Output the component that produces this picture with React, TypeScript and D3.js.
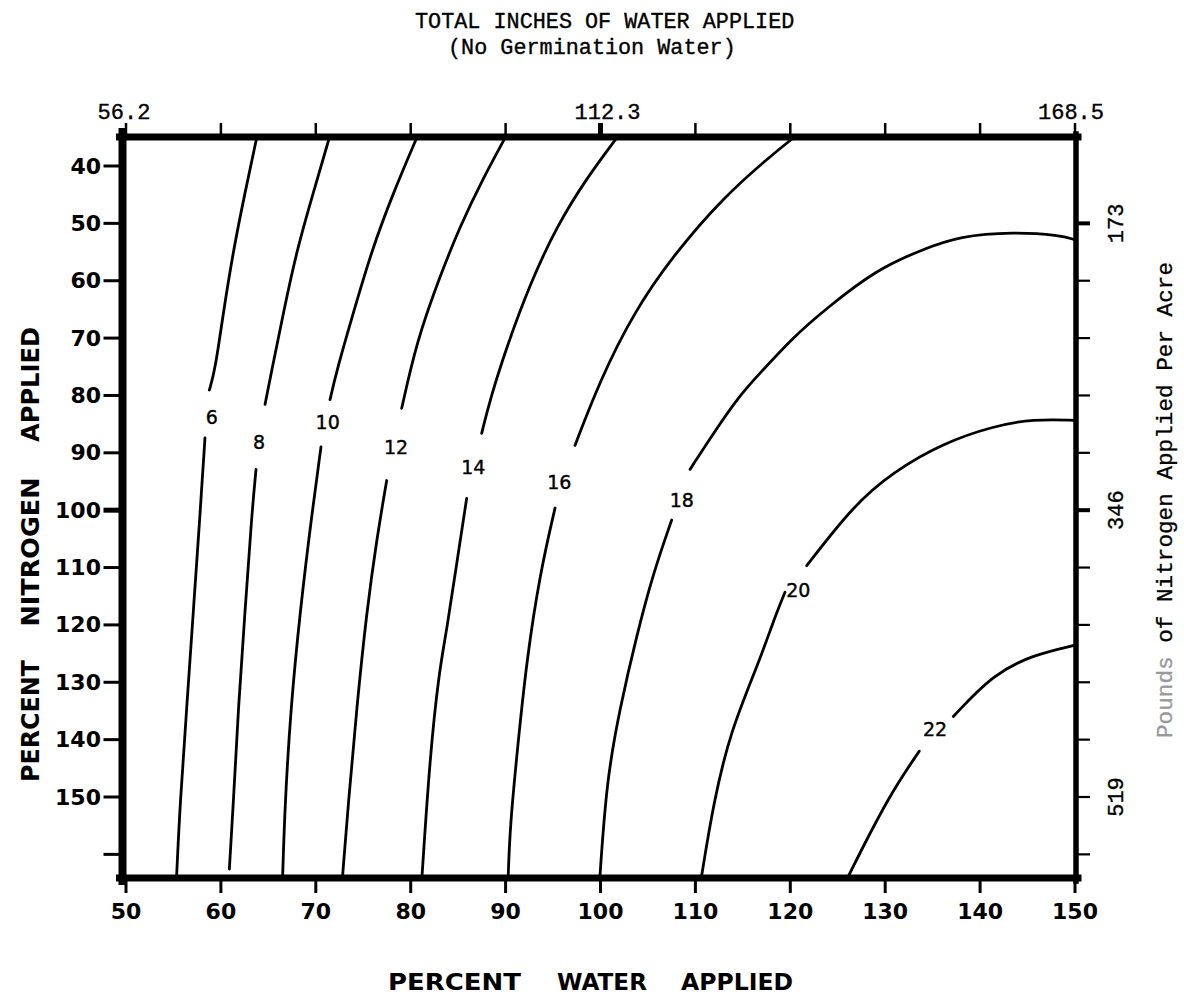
import React from 'react';
import * as d3 from 'd3';

// ---------- data ----------
const WATER_TICKS = [50, 60, 70, 80, 90, 100, 110, 120, 130, 140, 150];
const NITROGEN_TICKS = [40, 50, 60, 70, 80, 90, 100, 110, 120, 130, 140, 150];
const NITROGEN_UNLABELED_TICKS = [160];
const TOP_LABEL_AT = [50, 100, 150];
const TOP_LABELS = ['56.2', '112.3', '168.5'];
const RIGHT_TICKS = [50, 60, 70, 80, 90, 100, 110, 120, 130, 140, 150, 160];
const RIGHT_LABEL_AT = [50, 100, 150];
const RIGHT_LABELS = ['173', '346', '519'];

const CONTOUR_LEVELS = [6, 8, 10, 12, 14, 16, 18, 20, 22];

// each contour: segments of [percent water, percent nitrogen]
const CONTOUR_6 = [
  [[63.77, 35.1], [62.54, 44.64], [61.31, 54.71], [60.25, 65.63], [59.38, 75.69], [58.78, 79.05]],
  [[58.32, 87.42], [57.8, 100.84], [57.09, 117.67], [56.4, 134.46], [55.69, 151.23], [55.34, 163.6]],
];
const CONTOUR_8 = [
  [[71.42, 35.1], [69.74, 44.64], [67.99, 54.71], [66.58, 65.63], [65.35, 75.69], [64.65, 81.56]],
  [[63.7, 92.89], [63.25, 100.84], [62.54, 117.67], [61.83, 134.46], [61.31, 151.23], [60.89, 162.56]],
];
const CONTOUR_10 = [
  [[80.63, 35.1], [78.17, 44.64], [75.89, 54.71], [73.95, 65.63], [72.2, 75.69], [71.5, 80.73]],
  [[70.55, 88.95], [69.57, 100.84], [68.34, 117.67], [67.36, 134.46], [66.75, 151.23], [66.51, 163.6]],
];
const CONTOUR_12 = [
  [[89.94, 35.1], [87.65, 42.09], [85.19, 50.51], [82.9, 60.0], [80.63, 70.65], [79.05, 82.24]],
  [[77.47, 94.83], [76.42, 105.06], [75.36, 117.67], [74.31, 134.46], [73.42, 151.23], [72.83, 163.6]],
];
const CONTOUR_14 = [
  [[101.71, 35.1], [98.55, 42.09], [95.38, 50.51], [92.57, 60.57], [90.12, 71.5], [88.36, 80.73], [87.48, 86.6]],
  [[85.9, 97.93], [84.85, 109.26], [83.79, 121.01], [83.0, 128.0], [82.03, 142.84], [81.2, 163.6]],
];
const CONTOUR_16 = [
  [[120.32, 35.1], [117.86, 38.34], [112.94, 45.47], [107.67, 55.55], [103.46, 65.63], [99.95, 77.38], [97.31, 88.71]],
  [[95.21, 99.62], [93.63, 110.96], [92.22, 126.05], [91.17, 142.84], [90.46, 155.41], [90.28, 163.6]],
];
const CONTOUR_18 = [
  [[150, 52.87], [148.42, 52.03], [143.5, 51.51], [137.88, 52.19], [133.67, 54.71], [129.1, 58.06], [123.84, 64.77],
   [120.32, 69.81], [116.81, 76.11], [114.7, 79.89], [111.89, 86.6], [109.43, 92.89]],
  [[107.5, 101.72], [105.56, 110.96], [103.81, 121.85], [102.05, 134.46], [100.65, 147.04], [99.95, 163.6]],
];
const CONTOUR_20 = [
  [[150, 84.33], [145.61, 84.09], [141.39, 85.35], [136.12, 88.29], [130.85, 93.31], [126.64, 99.19], [121.73, 109.68]],
  [[119.44, 114.3], [118.21, 119.34], [116.81, 126.05], [113.65, 138.64], [111.89, 151.23], [110.67, 163.6]],
];
const CONTOUR_22 = [
  [[150, 123.54], [145.61, 125.22], [141.39, 128.56], [137.18, 135.96]],
  [[133.59, 142.01], [130.85, 148.72], [128.4, 156.28], [126.11, 163.83]],
];
const CONTOURS = [CONTOUR_6, CONTOUR_8, CONTOUR_10, CONTOUR_12, CONTOUR_14, CONTOUR_16, CONTOUR_18, CONTOUR_20, CONTOUR_22];

// label anchor for each contour level [water, nitrogen]
const LABEL_POSITIONS = [
  [59.03, 83.83], [64.01, 88.12], [71.25, 84.67], [78.45, 88.95], [86.6, 92.48],
  [95.66, 95.16], [108.56, 98.19], [120.84, 113.88], [135.25, 138.22],
];

// ---------- layout ----------
const W = 1184;
const H = 997;
const x = d3.scaleLinear().domain([50, 150]).range([126, 1075]);
const y = d3.scaleLinear().domain([40, 150]).range([166, 797]);
const FRAME_LEFT = 122.5;
const FRAME_RIGHT = 1076;
const FRAME_TOP = 137;
const FRAME_BOTTOM = 878;

const line = d3
  .line<number[]>()
  .x((d) => x(d[0]))
  .y((d) => y(d[1]))
  .curve(d3.curveBasis);

const SANS_BOLD = { fontFamily: '"DejaVu Sans", sans-serif', fontWeight: 700 } as const;
const MONO = { fontFamily: '"Liberation Mono", "Courier New", monospace' } as const;

export default function App() {
  return (
    <svg
      width={W}
      height={H}
      viewBox={`0 0 ${W} ${H}`}
      style={{ position: 'absolute', left: 0, top: 0, background: '#fff' }}
    >
      <rect x={0} y={0} width={W} height={H} fill="#fff" />

      {/* Title */}
      <g {...MONO} fontSize={21.8} fill="#000" stroke="#000" strokeWidth={0.35}>
        <text x={415} y={28}>TOTAL INCHES OF WATER APPLIED</text>
        <text x={448} y={54}>(No Germination Water)</text>
      </g>

      {/* Contours */}
      <g fill="none" stroke="#000" strokeWidth={2.8} strokeLinecap="round">
        {CONTOURS.map((segs, i) =>
          segs.map((seg, j) => <path key={`${i}-${j}`} d={line(seg as number[][]) || ''} />)
        )}
      </g>
      <g fontFamily='"DejaVu Sans", sans-serif' fontSize={19} fill="#000" stroke="#000" strokeWidth={0.4} textAnchor="middle">
        {CONTOUR_LEVELS.map((lv, i) => (
          <text key={lv} x={x(LABEL_POSITIONS[i][0])} y={y(LABEL_POSITIONS[i][1])} dominantBaseline="central">
            {lv}
          </text>
        ))}
      </g>

      {/* Frame */}
      <g stroke="#000" strokeLinecap="square">
        <line x1={FRAME_LEFT - 3} x2={FRAME_RIGHT + 2} y1={FRAME_TOP} y2={FRAME_TOP} strokeWidth={7} />
        <line x1={FRAME_LEFT - 3} x2={FRAME_RIGHT + 2} y1={FRAME_BOTTOM} y2={FRAME_BOTTOM} strokeWidth={7} />
        <line x1={FRAME_LEFT} x2={FRAME_LEFT} y1={FRAME_TOP - 5} y2={FRAME_BOTTOM + 3} strokeWidth={8} />
        <line x1={FRAME_RIGHT} x2={FRAME_RIGHT} y1={FRAME_TOP - 3} y2={FRAME_BOTTOM + 3} strokeWidth={5.5} />
      </g>

      {/* Bottom axis */}
      <g stroke="#000" strokeWidth={3}>
        {WATER_TICKS.map((t) => (
          <line key={t} x1={x(t)} x2={x(t)} y1={FRAME_BOTTOM} y2={FRAME_BOTTOM + 15} />
        ))}
      </g>
      <g {...SANS_BOLD} fontSize={22} textAnchor="middle" fill="#000">
        {WATER_TICKS.map((t) => (
          <text key={t} x={x(t)} y={919}>
            {t}
          </text>
        ))}
      </g>
      <g {...SANS_BOLD} fontSize={23} textAnchor="middle" fill="#000">
        <text x={454.5} y={990} textLength={133} lengthAdjust="spacingAndGlyphs">PERCENT</text>
        <text x={602} y={990} textLength={90} lengthAdjust="spacingAndGlyphs">WATER</text>
        <text x={737} y={990} textLength={112} lengthAdjust="spacingAndGlyphs">APPLIED</text>
      </g>

      {/* Top axis */}
      <g stroke="#000">
        {WATER_TICKS.map((t) => (
          <line
            key={t}
            x1={x(t)}
            x2={x(t)}
            y1={FRAME_TOP}
            y2={FRAME_TOP - 14}
            strokeWidth={TOP_LABEL_AT.includes(t) && t === 100 ? 5 : 2.5}
          />
        ))}
      </g>
      <g {...MONO} fontSize={22} textAnchor="middle" fill="#000" stroke="#000" strokeWidth={0.35}>
        {TOP_LABEL_AT.map((t, i) => (
          <text key={t} x={x(t) + (i === 0 ? -2 : i === 1 ? 7 : -4)} y={119}>
            {TOP_LABELS[i]}
          </text>
        ))}
      </g>

      {/* Left axis */}
      <g stroke="#000">
        {NITROGEN_TICKS.concat(NITROGEN_UNLABELED_TICKS).map((t) => (
          <line key={t} x1={FRAME_LEFT - 19} x2={FRAME_LEFT} y1={y(t)} y2={y(t)} strokeWidth={t === 100 ? 5 : 3} />
        ))}
      </g>
      <g {...SANS_BOLD} fontSize={22} textAnchor="end" fill="#000">
        {NITROGEN_TICKS.map((t) => (
          <text key={t} x={101} y={y(t)} dominantBaseline="central">
            {t}
          </text>
        ))}
      </g>
      <g {...SANS_BOLD} fontSize={24} textAnchor="middle" fill="#000">
        <text transform={`translate(39,384.5) rotate(-90)`} textLength={115} lengthAdjust="spacingAndGlyphs">APPLIED</text>
        <text transform={`translate(39,552) rotate(-90)`} textLength={149} lengthAdjust="spacingAndGlyphs">NITROGEN</text>
        <text transform={`translate(39,721) rotate(-90)`} textLength={122} lengthAdjust="spacingAndGlyphs">PERCENT</text>
      </g>

      {/* Right axis */}
      <g stroke="#000">
        {RIGHT_TICKS.map((t) => (
          <line
            key={t}
            x1={FRAME_RIGHT}
            x2={FRAME_RIGHT + 14}
            y1={y(t)}
            y2={y(t)}
            strokeWidth={RIGHT_LABEL_AT.includes(t) && t !== 150 ? 4 : 2.2}
          />
        ))}
      </g>
      <g {...MONO} fontSize={22} textAnchor="middle" fill="#000" stroke="#000" strokeWidth={0.35}>
        {RIGHT_LABEL_AT.map((t, i) => (
          <text key={t} transform={`translate(1123,${y(t)}) rotate(-90)`}>
            {RIGHT_LABELS[i]}
          </text>
        ))}
      </g>
      <g {...MONO} fontSize={22.5} fill="#000" stroke="#000" strokeWidth={0.3}>
        <text transform="translate(1172,738) rotate(-90)" textLength={476} lengthAdjust="spacingAndGlyphs">
          <tspan fill="#999" stroke="#999">Pounds</tspan>
          <tspan> of Nitrogen Applied Per Acre</tspan>
        </text>
      </g>
    </svg>
  );
}
